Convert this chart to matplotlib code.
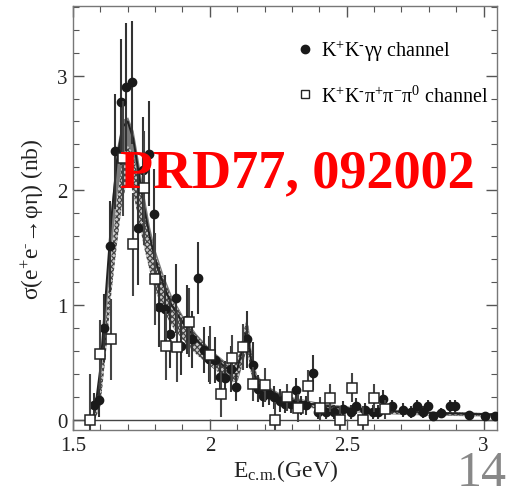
import matplotlib
matplotlib.use("Agg")
import matplotlib.pyplot as plt
from matplotlib.lines import Line2D
from matplotlib.ticker import MultipleLocator
import numpy as np

plt.rcParams['font.family'] = ['Liberation Serif', 'DejaVu Serif']
plt.rcParams['mathtext.fontset'] = 'custom'
plt.rcParams['mathtext.rm'] = 'Liberation Serif'
plt.rcParams['mathtext.it'] = 'Liberation Serif:italic'
plt.rcParams['hatch.color'] = '#444444'
plt.rcParams['hatch.linewidth'] = 0.9

# K+K-gamma gamma channel (filled circles)
kkgg_x = [1.576, 1.596, 1.615, 1.635, 1.655, 1.675, 1.695, 1.715, 1.736, 1.755,
          1.776, 1.796, 1.816, 1.835, 1.856, 1.877, 1.896, 1.917, 1.936, 1.957,
          1.977, 1.997, 2.018, 2.036, 2.055, 2.076, 2.097, 2.136, 2.157, 2.177,
          2.195, 2.215, 2.235, 2.255, 2.276, 2.295, 2.315, 2.334, 2.353, 2.375,
          2.396, 2.425, 2.454, 2.485, 2.515, 2.535, 2.565, 2.595, 2.614, 2.634,
          2.665, 2.705, 2.735, 2.755, 2.777, 2.796, 2.815, 2.846, 2.877, 2.896,
          2.946, 3.006, 3.042]
kkgg_y = [0.13, 0.17, 0.80, 1.51, 2.34, 2.77, 2.90, 2.94, 1.67, 2.18,
          2.32, 1.79, 0.985, 0.965, 0.75, 1.06, 0.64, 0.87, 0.70, 1.235,
          0.61, 0.53, 0.52, 0.37, 0.36, 0.44, 0.285, 0.70, 0.48, 0.27,
          0.21, 0.225, 0.195, 0.166, 0.14, 0.135, 0.26, 0.125, 0.125, 0.41,
          0.065, 0.065, 0.065, 0.09, 0.065, 0.12, 0.085, 0.065, 0.065, 0.18,
          0.115, 0.085, 0.065, 0.115, 0.065, 0.115, 0.03, 0.06, 0.115, 0.115,
          0.045, 0.03, 0.035]
kkgg_err = [0.10, 0.15, 0.30, 0.40, 0.50, 0.55, 0.56, 0.54, 0.50, 0.46,
            0.46, 0.40, 0.35, 0.30, 0.30, 0.30, 0.25, 0.30, 0.25, 0.31,
            0.20, 0.20, 0.20, 0.15, 0.15, 0.20, 0.12, 0.25, 0.20, 0.12,
            0.10, 0.10, 0.10, 0.10, 0.08, 0.08, 0.10, 0.08, 0.08, 0.15,
            0.06, 0.06, 0.06, 0.07, 0.06, 0.07, 0.06, 0.06, 0.06, 0.08,
            0.06, 0.06, 0.05, 0.06, 0.05, 0.06, 0.04, 0.04, 0.06, 0.06,
            0.03, 0.02, 0.02]

# K+K-pi+pi-pi0 channel (open squares)
kk3pi_x = [1.561, 1.600, 1.640, 1.682, 1.721, 1.761, 1.801, 1.840, 1.879, 1.923,
           2.002, 2.041, 2.080, 2.121, 2.157, 2.202, 2.239, 2.280, 2.321, 2.360,
           2.402, 2.440, 2.477, 2.519, 2.559, 2.599, 2.639]
kk3pi_y = [0.0, 0.57, 0.70, 2.28, 1.53, 2.02, 1.227, 0.645, 0.63, 0.85,
           0.565, 0.22, 0.54, 0.63, 0.31, 0.30, 0.0, 0.195, 0.10, 0.29,
           0.10, 0.19, 0.0, 0.28, 0.0, 0.19, 0.09]
kk3pi_err = [0.40, 0.30, 0.35, 0.50, 0.45, 0.50, 0.40, 0.30, 0.30, 0.30,
             0.25, 0.20, 0.20, 0.20, 0.15, 0.15, 0.15, 0.12, 0.12, 0.14,
             0.10, 0.12, 0.12, 0.13, 0.12, 0.12, 0.08]

# fit curve and bands
fit_x = [1.57, 1.58, 1.60, 1.62, 1.64, 1.66, 1.68, 1.70, 1.72, 1.74,
         1.76, 1.78, 1.80, 1.83, 1.86, 1.90, 1.95, 2.00, 2.05, 2.08,
         2.10, 2.12, 2.13, 2.14, 2.15, 2.17, 2.20, 2.25, 2.30, 2.40,
         2.50, 2.60, 2.80, 3.05]
fit_y = [0.0, 0.08, 0.45, 1.10, 1.75, 2.25, 2.55, 2.60, 2.45, 2.15,
         1.85, 1.60, 1.40, 1.18, 1.00, 0.85, 0.70, 0.58, 0.47, 0.42,
         0.44, 0.62, 0.75, 0.72, 0.53, 0.33, 0.26, 0.20, 0.165, 0.125,
         0.10, 0.08, 0.06, 0.045]
gray_hi = [0.02, 0.12, 0.50, 1.18, 1.88, 2.38, 2.62, 2.64, 2.52, 2.24,
           1.95, 1.68, 1.48, 1.26, 1.08, 0.91, 0.75, 0.62, 0.52, 0.47,
           0.52, 0.74, 0.86, 0.82, 0.62, 0.40, 0.31, 0.24, 0.20, 0.15,
           0.12, 0.10, 0.075, 0.06]
gray_lo = [0.0, 0.03, 0.30, 0.90, 1.50, 1.96, 2.25, 2.33, 2.18, 1.92,
           1.62, 1.38, 1.20, 1.01, 0.86, 0.72, 0.59, 0.48, 0.38, 0.33,
           0.34, 0.50, 0.60, 0.58, 0.42, 0.26, 0.21, 0.16, 0.13, 0.095,
           0.075, 0.055, 0.04, 0.03]
hatch_hi = [0.0, 0.05, 0.30, 0.85, 1.42, 1.90, 2.26, 2.39, 2.32, 2.10,
            1.86, 1.64, 1.45, 1.24, 1.06, 0.90, 0.74, 0.61, 0.51, 0.46,
            0.51, 0.72, 0.84, 0.80, 0.61, 0.39, 0.30, 0.23, 0.19, 0.14,
            0.11, 0.09, 0.07, 0.055]
hatch_lo = [0.0, 0.0, 0.12, 0.58, 1.10, 1.52, 1.90, 2.10, 1.98, 1.74,
            1.50, 1.30, 1.13, 0.96, 0.82, 0.70, 0.57, 0.47, 0.38, 0.33,
            0.34, 0.49, 0.58, 0.56, 0.41, 0.26, 0.21, 0.16, 0.13, 0.095,
            0.075, 0.055, 0.04, 0.03]

fig = plt.figure(figsize=(5.08, 4.89), dpi=100)
ax = fig.add_axes([73/508, 1-431/489, (497-73)/508, (431-7)/489])

ax.axhline(0, color='#444444', lw=1.0, zorder=1)

ax.fill_between(fit_x, gray_lo, gray_hi, color='#7a7a7a', lw=0, zorder=2)
ax.fill_between(fit_x, hatch_lo, hatch_hi, facecolor='#c8c8c8', edgecolor='#444444',
                hatch='xxxxxx', lw=0.0, zorder=3)
ax.plot(fit_x, fit_y, color='#222222', lw=1.4, zorder=4)

ax.errorbar(kkgg_x, kkgg_y, yerr=kkgg_err, fmt='o', ms=6, color='#1a1a1a',
            ecolor='#333333', elinewidth=1.5, capsize=0, zorder=6)
ax.errorbar(kk3pi_x, kk3pi_y, yerr=kk3pi_err, fmt='s', ms=7, mfc='white',
            mec='#222222', mew=1.1, ecolor='#444444', elinewidth=1.5,
            capsize=0, zorder=7)

ax.set_xlim(1.5, 3.049)
ax.set_ylim(-0.09, 3.607)
ax.xaxis.set_major_locator(MultipleLocator(0.5))
ax.xaxis.set_minor_locator(MultipleLocator(0.1))
ax.yaxis.set_major_locator(MultipleLocator(1))
ax.yaxis.set_minor_locator(MultipleLocator(0.2))
ax.set_xticks([1.5, 2, 2.5, 3])
ax.set_xticklabels(['1.5', '2', '2.5', '3'])
ax.tick_params(which='both', direction='in', top=True, right=True,
               color='#555555', labelsize=15, labelcolor='#222222')
ax.tick_params(which='major', length=8, width=1.0, pad=4)
ax.tick_params(which='minor', length=4, width=0.8)
for s in ax.spines.values():
    s.set_color('#777777')
    s.set_linewidth(1.0)

ax.set_xlabel(r'E$_{\text{c.m.}}$(GeV)', fontsize=17, color='#222222', labelpad=2)
ax.set_ylabel(r'σ(e$^{+}$e$^{\text{-}}$→φη) (nb)', fontsize=17, color='#222222', labelpad=8)

handles = [Line2D([], [], marker='o', ls='none', color='#1a1a1a', ms=6),
           Line2D([], [], marker='s', ls='none', mfc='white', mec='#222222', ms=6, mew=1.0)]
labels = [r'K$^{+}$K$^{\text{-}}$γγ channel',
          r'K$^{+}$K$^{\text{-}}$π$^{+}$π$^{-}$π$^{0}$ channel']
ax.legend(handles, labels, loc='upper left', bbox_to_anchor=((299-73)/424, (431-39)/424),
          frameon=False, fontsize=14.5, handlelength=0.6, handletextpad=0.5,
          labelspacing=1.1, borderpad=0, borderaxespad=0)

fig.text(297/508, 1-174/489, 'PRD77, 092002', color='red', fontsize=39,
         fontweight='bold', ha='center', va='center')
fig.text(507/508, 1-486/489, '14', color='#888888', fontsize=36,
         ha='right', va='baseline')

fig.savefig('out.png', dpi=100)
